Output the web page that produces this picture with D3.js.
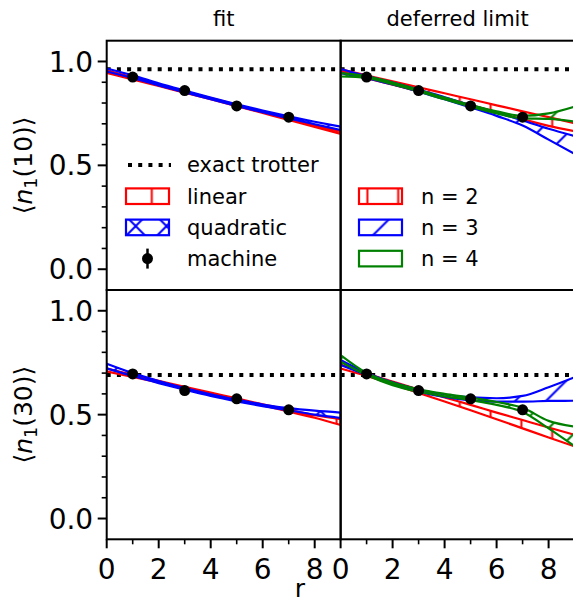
<!DOCTYPE html>
<html><head><meta charset="utf-8">
<script src="https://cdn.jsdelivr.net/npm/d3@7"></script>
<style>html,body{margin:0;padding:0;background:#fff;} svg{display:block;font-family:"DejaVu Sans",sans-serif;}</style>
</head><body><svg id="c" width="573" height="604"></svg>
<script>
// ---------------- data ----------------
const rGrid = [0,1,2,3,4,5,6,7,8,9];
const rMachine = [1,3,5,7];
const machine10 = [0.925,0.860,0.786,0.732];
const machine30 = [0.696,0.616,0.576,0.523];
const machineErr10 = [0.004,0.004,0.004,0.004];
const machineErr30 = [0.004,0.004,0.004,0.004];
const exact10 = 0.963;
const exact30 = 0.691;

// fit panels, <n1(10)>
const linear10Lo = [0.945,0.914,0.882,0.850,0.818,0.785,0.752,0.719,0.685,0.652];
const linear10Hi = [0.957,0.924,0.890,0.856,0.824,0.791,0.758,0.727,0.695,0.664];
const quad10Lo   = [0.952,0.921,0.885,0.852,0.818,0.786,0.756,0.726,0.698,0.670];
const quad10Hi   = [0.966,0.933,0.895,0.860,0.826,0.794,0.764,0.736,0.710,0.686];
// fit panels, <n1(30)>
const linear30Lo = [0.708,0.682,0.655,0.628,0.600,0.572,0.544,0.515,0.485,0.450];
const linear30Hi = [0.722,0.692,0.663,0.634,0.606,0.578,0.550,0.523,0.497,0.478];
const quad30Lo   = [0.723,0.686,0.652,0.620,0.590,0.564,0.541,0.521,0.500,0.484];
const quad30Hi   = [0.745,0.700,0.662,0.628,0.598,0.572,0.549,0.531,0.519,0.510];
// deferred limit, <n1(10)>
const n2_10Lo = [0.952,0.920,0.888,0.856,0.823,0.790,0.756,0.722,0.690,0.664];
const n2_10Hi = [0.962,0.933,0.904,0.876,0.847,0.818,0.789,0.760,0.732,0.703];
const n3_10Lo = [0.944,0.920,0.889,0.855,0.818,0.779,0.738,0.692,0.624,0.555];
const n3_10Hi = [0.964,0.930,0.899,0.865,0.828,0.790,0.755,0.716,0.676,0.641];
const n4_10Lo = [0.928,0.921,0.891,0.856,0.818,0.782,0.750,0.726,0.724,0.711];
const n4_10Hi = [0.944,0.929,0.899,0.864,0.826,0.790,0.760,0.738,0.750,0.783];
// deferred limit, <n1(30)>
const n2_30Lo = [0.722,0.686,0.647,0.605,0.563,0.521,0.478,0.434,0.390,0.347];
const n2_30Hi = [0.742,0.698,0.659,0.621,0.583,0.547,0.510,0.474,0.438,0.403];
const n3_30Lo = [0.739,0.691,0.646,0.611,0.585,0.569,0.563,0.563,0.566,0.567];
const n3_30Hi = [0.763,0.701,0.656,0.621,0.597,0.583,0.579,0.590,0.632,0.680];
const n4_30Lo = [0.755,0.691,0.642,0.610,0.588,0.570,0.547,0.513,0.434,0.348];
const n4_30Hi = [0.787,0.701,0.654,0.622,0.600,0.582,0.561,0.533,0.470,0.442];

const xTicks = [0,2,4,6,8];
const xMinor = [1,3,5,7];
const yTicks = [0.0,0.5,1.0];
const yMinor = [0.1,0.2,0.3,0.4,0.6,0.7,0.8,0.9];
const colTitles = ["fit","deferred limit"];
const rowLabels = ["10","30"];
const legendFit = ["exact trotter","linear","quadratic","machine"];
const legendDef = ["n = 2","n = 3","n = 4"];

// ---------------- layout ----------------
const svg = d3.select("#c");
const colX = [106.7, 340.6], pw = 234.0;
const rowY = [40.7, 290.0], ph = 249.3;
const xs = c => d3.scaleLinear().domain([0,9]).range([colX[c], colX[c]+pw]);
const ys = r => d3.scaleLinear().domain([-0.1,1.1]).range([rowY[r]+ph, rowY[r]]);
const RED="#ff0000", BLUE="#0000ff", GREEN="#008000";
const P = 30.8;
const TICKFS = 28;
const defs = svg.append("defs");

function pattern(id, color, kind, px, py){
  const p = defs.append("pattern").attr("id",id).attr("patternUnits","userSpaceOnUse")
    .attr("x",px).attr("y",py).attr("width",P).attr("height",P);
  const ln = (x1,y1,x2,y2)=>p.append("line").attr("x1",x1).attr("y1",y1).attr("x2",x2).attr("y2",y2)
    .attr("stroke",color).attr("stroke-width",2);
  if(kind==="|"){ ln(P/2,-1,P/2,P+1); }
  if(kind==="/"||kind==="x"){ ln(-2,P+2,P+2,-2); ln(-2,2,2,-2); ln(P-2,P+2,P+2,P-2); }
  if(kind==="\\"||kind==="x"){ ln(-2,-2,P+2,P+2); ln(P-2,-2,P+2,2); ln(-2,P-2,2,P+2); }
}
pattern("hRed", RED, "|", 13.2, 0);
pattern("hBlueX", BLUE, "x", 12.5, 10.5);
pattern("hBlueS", BLUE, "/", 23, 0);
pattern("hGreenS", GREEN, "/", 22, 0);

const panels = [
  {c:0,r:0,bands:[[linear10Lo,linear10Hi,RED,"hRed"],[quad10Lo,quad10Hi,BLUE,"hBlueX"]],pts:machine10,err:machineErr10,exact:exact10},
  {c:1,r:0,bands:[[n2_10Lo,n2_10Hi,RED,"hRed"],[n3_10Lo,n3_10Hi,BLUE,"hBlueS"],[n4_10Lo,n4_10Hi,GREEN,"hGreenS"]],pts:machine10,err:machineErr10,exact:exact10},
  {c:0,r:1,bands:[[linear30Lo,linear30Hi,RED,"hRed"],[quad30Lo,quad30Hi,BLUE,"hBlueX"]],pts:machine30,err:machineErr30,exact:exact30},
  {c:1,r:1,bands:[[n2_30Lo,n2_30Hi,RED,"hRed"],[n3_30Lo,n3_30Hi,BLUE,"hBlueS"],[n4_30Lo,n4_30Hi,GREEN,"hGreenS"]],pts:machine30,err:machineErr30,exact:exact30}
];

panels.forEach((pn,k)=>{
  const x = xs(pn.c), y = ys(pn.r);
  const cid = "clip"+k;
  defs.append("clipPath").attr("id",cid).append("rect")
    .attr("x",colX[pn.c]).attr("y",rowY[pn.r]).attr("width",pw).attr("height",ph);
  const g = svg.append("g").attr("clip-path",`url(#${cid})`);
  // exact trotter
  g.append("line").attr("x1",x(0)).attr("x2",x(9)).attr("y1",y(pn.exact)).attr("y2",y(pn.exact))
    .attr("stroke","#000").attr("stroke-width",4).attr("stroke-dasharray","4,6.2");
  pn.bands.forEach(([lo,hi,col,pat])=>{
    const area = d3.area().x((d,i)=>x(rGrid[i])).y0((d,i)=>y(lo[i])).y1((d,i)=>y(hi[i])).curve(d3.curveMonotoneX);
    g.append("path").attr("d",area(rGrid)).attr("fill",`url(#${pat})`)
      .attr("stroke",col).attr("stroke-width",2.2).attr("stroke-linejoin","round");
  });
  // machine points with error bars
  rMachine.forEach((rv,i)=>{
    g.append("line").attr("x1",x(rv)).attr("x2",x(rv)).attr("y1",y(pn.pts[i]-pn.err[i])).attr("y2",y(pn.pts[i]+pn.err[i]))
      .attr("stroke","#000").attr("stroke-width",2.5);
    g.append("circle").attr("cx",x(rv)).attr("cy",y(pn.pts[i])).attr("r",5.5).attr("fill","#000");
  });
  // spines
  svg.append("rect").attr("x",colX[pn.c]).attr("y",rowY[pn.r]).attr("width",pw).attr("height",ph)
    .attr("fill","none").attr("stroke","#000").attr("stroke-width",2);
});

// y axes (left column)
[0,1].forEach(r=>{
  const y = ys(r), x0 = colX[0];
  yTicks.forEach(v=>{
    svg.append("line").attr("x1",x0-9).attr("x2",x0).attr("y1",y(v)).attr("y2",y(v)).attr("stroke","#000").attr("stroke-width",2);
    svg.append("text").attr("x",x0-13.5).attr("y",y(v)).attr("dy","0.36em").attr("text-anchor","end")
      .attr("font-size",TICKFS).text(v.toFixed(1));
  });
  yMinor.forEach(v=>{
    svg.append("line").attr("x1",x0-5).attr("x2",x0).attr("y1",y(v)).attr("y2",y(v)).attr("stroke","#000").attr("stroke-width",1.6);
  });
  const lab = svg.append("text").attr("transform",`translate(32,${rowY[r]+ph/2}) rotate(-90)`)
    .attr("text-anchor","middle").attr("font-size",25);
  lab.append("tspan").text("\u27E8");
  lab.append("tspan").attr("font-style","italic").text("n");
  lab.append("tspan").attr("font-size",17.5).attr("dy",5).text("1");
  lab.append("tspan").attr("dy",-5).text("(" + rowLabels[r] + ")\u27E9");
});

// x axes (bottom row)
[0,1].forEach(c=>{
  const x = xs(c), yb = rowY[1]+ph;
  xTicks.forEach(v=>{
    svg.append("line").attr("x1",x(v)).attr("x2",x(v)).attr("y1",yb).attr("y2",yb+9).attr("stroke","#000").attr("stroke-width",2);
    svg.append("text").attr("x",x(v)).attr("y",yb+40).attr("text-anchor","middle").attr("font-size",TICKFS).text(v);
  });
  xMinor.forEach(v=>{
    svg.append("line").attr("x1",x(v)).attr("x2",x(v)).attr("y1",yb).attr("y2",yb+5).attr("stroke","#000").attr("stroke-width",1.6);
  });
  svg.append("text").attr("x",colX[c]+pw/2).attr("y",26).attr("text-anchor","middle").attr("font-size",21).text(colTitles[c]);
});
svg.append("text").attr("x",300).attr("y",597).attr("text-anchor","middle").attr("font-size",25).text("r");

// legends
const legY = [165,196.2,227.4,258.6];
function box(x0,yc,col,pat){
  svg.append("rect").attr("x",x0).attr("y",yc-7.8).attr("width",43).attr("height",15.6)
    .attr("fill",pat?`url(#${pat})`:"none").attr("stroke",col).attr("stroke-width",2.2);
}
// left legend
const lx = 126, tx = 187;
svg.append("line").attr("x1",lx+2).attr("x2",lx+45).attr("y1",legY[0]).attr("y2",legY[0])
  .attr("stroke","#000").attr("stroke-width",4).attr("stroke-dasharray","4,6.2");
box(lx,legY[1],RED,"hRed");
box(lx,legY[2],BLUE,"hBlueX");
svg.append("line").attr("x1",lx+21.5).attr("x2",lx+21.5).attr("y1",legY[3]-10).attr("y2",legY[3]+10).attr("stroke","#000").attr("stroke-width",2.5);
svg.append("circle").attr("cx",lx+21.5).attr("cy",legY[3]).attr("r",5.5).attr("fill","#000");
legendFit.forEach((t,i)=>svg.append("text").attr("x",tx).attr("y",legY[i]).attr("dy","0.35em").attr("font-size",21).text(t));
// right legend
const rx = 359, rtx = 421;
box(rx,legY[1],RED,"hRed");
box(rx,legY[2],BLUE,"hBlueS");
box(rx,legY[3],GREEN,null);
legendDef.forEach((t,i)=>svg.append("text").attr("x",rtx).attr("y",legY[i+1]).attr("dy","0.35em").attr("font-size",21).text(t));
</script></body></html>
